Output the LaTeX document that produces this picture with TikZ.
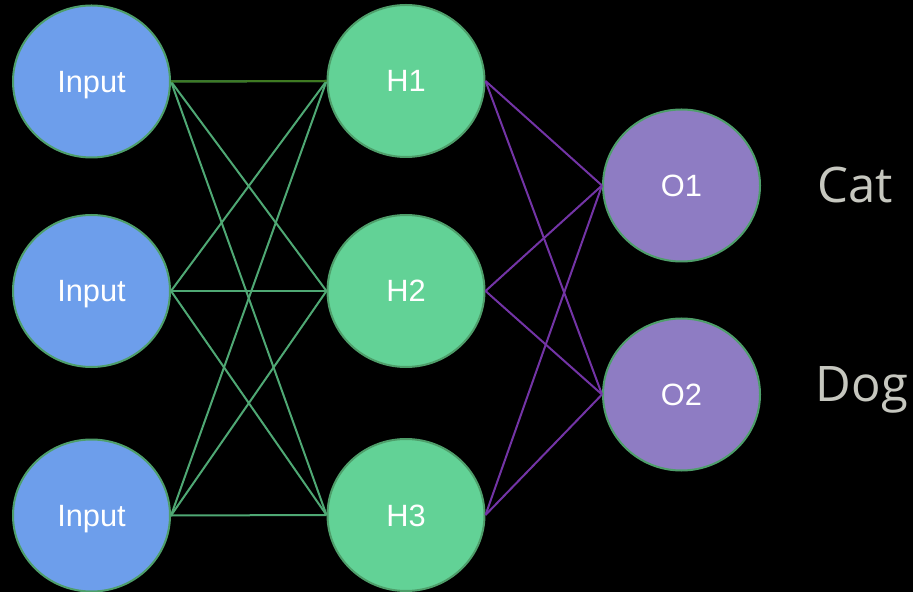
\documentclass[tikz,border=0pt]{standalone}
\usepackage{fontspec}
\setmainfont{Liberation Sans}
\newfontfamily\labelfont{Open Sans}
\usetikzlibrary{shapes.geometric}

\definecolor{inblue}{HTML}{6D9EEB}
\definecolor{hidgreen}{HTML}{62D296}
\definecolor{outpurple}{HTML}{8E7CC3}
\definecolor{rimgreen}{HTML}{4E9E6A}
\definecolor{wiregreen}{HTML}{4FA874}
\definecolor{wireolive}{HTML}{3F7A22}
\definecolor{wirepurple}{HTML}{7334A6}
\definecolor{labelgray}{HTML}{C6C7BF}

\begin{document}
\begin{tikzpicture}[x=0.5pt,y=-0.5pt,
	neuron/.style={ellipse,draw=rimgreen,line width=1pt,minimum width=78.5pt,minimum height=76pt,
		inner sep=0pt,text height=11pt,text depth=0pt,text=white,font=\fontsize{15.4}{18}\selectfont},
	synapse/.style={draw=wiregreen,line width=1pt},
	outwire/.style={draw=wirepurple,line width=1pt},
	classlabel/.style={text=labelgray,font=\labelfont\fontsize{24.5}{29}\selectfont}]
	
	\fill[black] (0,0) rectangle (913,592);
	\useasboundingbox (0,0) rectangle (913,592);
	
	%Input layer
	\node[neuron,fill=inblue] (in1) at (91.5,81.5) {Input};
	\node[neuron,fill=inblue] (in2) at (91.5,291) {Input};
	\node[neuron,fill=inblue] (in3) at (91.5,515.5) {Input};
	
	%Hidden layer
	\node[neuron,fill=hidgreen] (h1) at (406,81) {H1};
	\node[neuron,fill=hidgreen] (h2) at (406,291) {H2};
	\node[neuron,fill=hidgreen] (h3) at (406,515) {H3};
	
	%Output layer
	\node[neuron,fill=outpurple] (o1) at (681.5,185.5) {O1};
	\node[neuron,fill=outpurple] (o2) at (681.5,394.5) {O2};
	
	\node[classlabel] (cat) at (855,185) {Cat};
	\node[classlabel] (dog) at (862,390) {Dog};
	
	%Connections
	\foreach \i in {1,2,3}
		\foreach \j in {1,2,3}
			\draw[synapse] (in\i.east) -- (h\j.west);
	\draw[synapse,draw=wireolive] (in1.east) -- (h1.west);
	
	\foreach \j in {1,2,3}
		\foreach \k in {1,2}
			\draw[outwire] (h\j.east) -- (o\k.west);
	
\end{tikzpicture}
\end{document}
